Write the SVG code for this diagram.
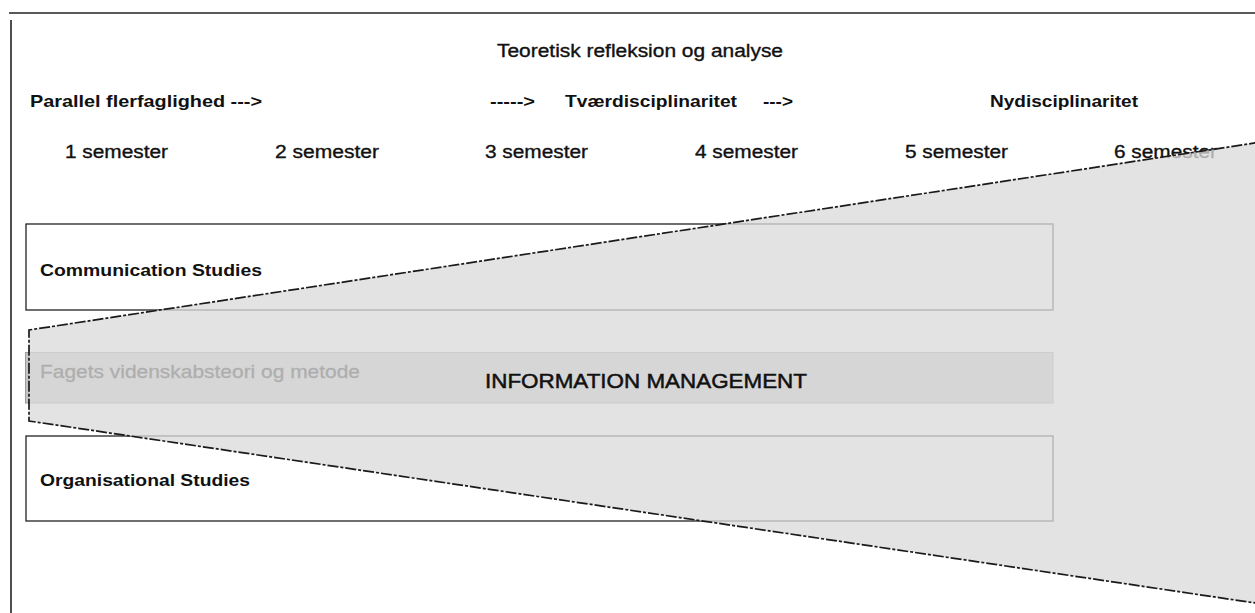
<svg xmlns="http://www.w3.org/2000/svg" width="1255" height="613" viewBox="0 0 1255 613">
<style>
text{font-family:"Liberation Sans",Arial,sans-serif;fill:#111}
.reg{font-size:18px;stroke:#111;stroke-width:0.35}
.med{font-size:17px;font-weight:bold}
.box{fill:#fff;stroke:#222;stroke-width:1.3}
.fag{fill:#c4c4c4;stroke:#9c9c9c;stroke-width:1}
.frame{stroke:#222;stroke-width:1.6;fill:none}
.funnel{fill:#dbdbdb;fill-opacity:0.776;stroke:none}
.dash{fill:none;stroke:#1a1a1a;stroke-width:1.7;stroke-dasharray:11 2 3 2}
</style>
<rect width="1255" height="613" fill="#fff"/>
<g id="frame">
<line class="frame" x1="9" y1="13" x2="1255" y2="13"/>
<line class="frame" x1="11" y1="20" x2="11" y2="613"/>
</g>
<g id="header">
<text class="reg" x="497" y="57" textLength="286" lengthAdjust="spacingAndGlyphs">Teoretisk refleksion og analyse</text>
<text class="med" x="30" y="107" textLength="232" lengthAdjust="spacingAndGlyphs">Parallel flerfaglighed ---&gt;</text>
<text class="med" x="490" y="107" textLength="45" lengthAdjust="spacingAndGlyphs">-----&gt;</text>
<text class="med" x="565" y="107" textLength="172" lengthAdjust="spacingAndGlyphs">Tværdisciplinaritet</text>
<text class="med" x="763" y="107" textLength="30" lengthAdjust="spacingAndGlyphs">---&gt;</text>
<text class="med" x="990" y="107" textLength="148" lengthAdjust="spacingAndGlyphs">Nydisciplinaritet</text>
<text class="reg" x="65" y="158" textLength="103" lengthAdjust="spacingAndGlyphs">1 semester</text>
<text class="reg" x="275" y="158" textLength="104" lengthAdjust="spacingAndGlyphs">2 semester</text>
<text class="reg" x="485" y="158" textLength="103" lengthAdjust="spacingAndGlyphs">3 semester</text>
<text class="reg" x="695" y="158" textLength="103" lengthAdjust="spacingAndGlyphs">4 semester</text>
<text class="reg" x="905" y="158" textLength="103" lengthAdjust="spacingAndGlyphs">5 semester</text>
<text class="reg" x="1114" y="158" textLength="103" lengthAdjust="spacingAndGlyphs">6 semester</text>
</g>
<g id="communication">
<rect class="box" x="26" y="224" width="1027" height="86"/>
<text class="med" x="40" y="276" textLength="222" lengthAdjust="spacingAndGlyphs">Communication Studies</text>
</g>
<g id="fagets">
<rect class="fag" x="25.5" y="352.5" width="1027.5" height="50.5"/>
<text class="reg" x="40" y="378" textLength="320" lengthAdjust="spacingAndGlyphs">Fagets videnskabsteori og metode</text>
</g>
<g id="organisational">
<rect class="box" x="26" y="436" width="1027" height="85"/>
<text class="med" x="40" y="486" textLength="210" lengthAdjust="spacingAndGlyphs">Organisational Studies</text>
</g>
<g id="connectors">
<g id="funnel">
<polygon class="funnel" points="29,330 1260,142.2 1260,603.7 29,421"/>
<polyline class="dash" points="1260,142.2 29,330 29,421 1260,603.7"/>
</g>
</g>
<g id="information-management">
<text x="485" y="388" style="font-size:21px;stroke:#111;stroke-width:0.5" textLength="322" lengthAdjust="spacingAndGlyphs">INFORMATION MANAGEMENT</text>
</g>
</svg>
